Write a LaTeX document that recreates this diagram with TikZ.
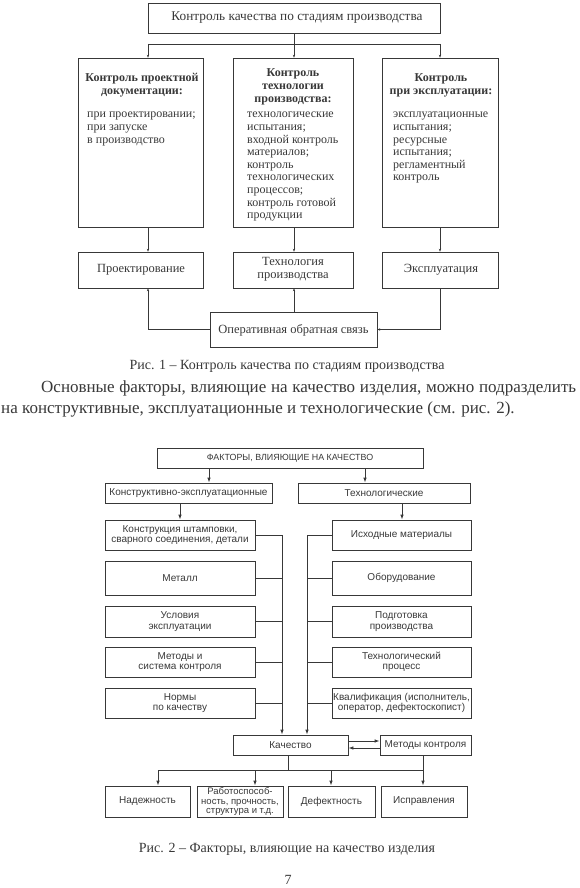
\documentclass[tikz,border=0pt]{standalone}
\usepackage{fontspec}
\setmainfont{Liberation Serif}
\newfontfamily\arialf{Liberation Sans}
\usetikzlibrary{arrows.meta}
\definecolor{ink}{gray}{0.22}
\begin{document}
\begin{tikzpicture}[x=1pt,y=-1pt,
  every node/.style={text=ink},
  boxa/.style={draw=ink, line width=0.6pt, inner sep=0pt},
  txta/.style={inner sep=0pt, font=\fontsize{12.5}{13.3}\selectfont},
  hdra/.style={inner sep=0pt, align=center, font=\fontsize{12}{13.3}\selectfont\bfseries},
  lista/.style={inner sep=0pt, align=left, anchor=north west, font=\fontsize{12}{12.6}\selectfont},
  arra/.style={draw=ink, line width=0.5pt, -{Stealth[length=3pt,width=2.4pt]}},
  lina/.style={draw=ink, line width=0.5pt},
  boxb/.style={draw=ink, line width=0.9pt, inner sep=0pt, align=center, font=\arialf\fontsize{10}{10.6}\selectfont},
  arrb/.style={draw=ink, line width=0.9pt, -{Latex[length=5pt,width=3.6pt]}},
  linb/.style={draw=ink, line width=0.9pt},
  capt/.style={inner sep=0pt, font=\fontsize{14}{16}\selectfont}
]
\useasboundingbox (0,0) rectangle (579,888);

% ---------------- Figure 1 ----------------
\node[boxa, minimum width=292pt, minimum height=30pt] (top) at (294,18) {};
\node[txta, font=\fontsize{13.3}{15}\selectfont] (toptxt) at (297,18) {Контроль качества по стадиям производства};

\node[boxa, minimum width=125pt, minimum height=169pt] (b1) at (140.5,142.5) {};
\node[boxa, minimum width=120pt, minimum height=169pt] (b2) at (293,142.5) {};
\node[boxa, minimum width=116pt, minimum height=169pt] (b3) at (440,142.5) {};

\node[hdra, anchor=north] (h1) at (142,73) {Контроль проектной\\документации:};
\node[lista] (t1) at (87,112) {при проектировании;\\при запуске\\в производство};

\node[hdra, anchor=north] (h2) at (293,68) {Контроль\\технологии\\производства:};
\node[lista] (t2) at (247,112) {технологические\\испытания;\\входной контроль\\материалов;\\контроль\\технологических\\процессов;\\контроль готовой\\продукции};

\node[hdra, anchor=north] (h3) at (441,73) {Контроль\\при эксплуатации:};
\node[lista] (t3) at (393,112) {эксплуатационные\\испытания;\\ресурсные\\испытания;\\регламентный\\контроль};

\node[boxa, minimum width=125pt, minimum height=36pt] (l1) at (140.5,270) {};
\node[boxa, minimum width=120pt, minimum height=36pt] (l2) at (293,270) {};
\node[boxa, minimum width=116pt, minimum height=36pt] (l3) at (440,270) {};
\node[txta] (l1t) at (141,270) {Проектирование};
\node[txta, align=center] (l2t) at (293,269.5) {Технология\\производства};
\node[txta] (l3t) at (441,270) {Эксплуатация};

\node[boxa, minimum width=167pt, minimum height=35pt] (fb) at (293.5,329.5) {};
\node[txta] (fbt) at (293.5,330) {Оперативная обратная связь};

\coordinate (jm) at (294,44);
\coordinate (jl) at (148,44);
\coordinate (jr) at (440,44);
\draw[lina] (top.south -| jm) -- (jm);
\draw[lina] (jl) -- (jr);
\draw[arra] (jl) -- (jl |- b1.north);
\draw[arra] (jm) -- (jm |- b2.north);
\draw[arra] (jr) -- (jr |- b3.north);
\draw[arra] (jl |- b1.south) -- (jl |- l1.north);
\draw[arra] (jm |- b2.south) -- (jm |- l2.north);
\draw[arra] (jr |- b3.south) -- (jr |- l3.north);
\draw[arra] (fb.west) -| (jl |- l1.south);
\draw[arra] (jm |- fb.north) -- (jm |- l2.south);
\draw[arra] (jr |- l3.south) |- (fb.east);

\node[capt] (cap1) at (287,366) {Рис. 1 -- Контроль качества по стадиям производства};

% ---------------- paragraph ----------------
\node[inner sep=0pt, anchor=west, font=\fontsize{17}{20}\selectfont] (par1) at (41,388)
  {\makebox[535pt][s]{Основные факторы, влияющие на качество изделия, можно подразделить}};
\node[inner sep=0pt, anchor=west, font=\fontsize{17}{20}\selectfont] (par2) at (1,409)
  {на конструктивные, эксплуатационные и технологические (см. рис. 2).};

% ---------------- Figure 2 ----------------
\node[boxb, font=\arialf\fontsize{8.9}{10}\selectfont, minimum width=266pt, minimum height=20pt] (F) at (290,458) {ФАКТОРЫ, ВЛИЯЮЩИЕ НА КАЧЕСТВО};
\node[boxb, minimum width=167pt, minimum height=20pt] (K1) at (188.5,493) {Конструктивно-эксплуатационные};
\node[boxb, minimum width=172pt, minimum height=20pt] (T1) at (384,493) {Технологические};

\node[boxb, minimum width=150pt, minimum height=30pt] (L1) at (180,535) {Конструкция штамповки,\\сварного соединения, детали};
\node[boxb, minimum width=150pt, minimum height=34pt] (L2) at (180,578) {Металл};
\node[boxb, minimum width=150pt, minimum height=31pt] (L3) at (180,621.5) {Условия\\эксплуатации};
\node[boxb, minimum width=150pt, minimum height=30pt] (L4) at (180,662) {Методы и\\система контроля};
\node[boxb, minimum width=150pt, minimum height=30pt] (L5) at (180,703) {Нормы\\по качеству};

\node[boxb, minimum width=139pt, minimum height=30pt] (R1) at (401.5,535) {Исходные материалы};
\node[boxb, minimum width=139pt, minimum height=34pt] (R2) at (401.5,578) {Оборудование};
\node[boxb, minimum width=139pt, minimum height=31pt] (R3) at (401.5,621.5) {Подготовка\\производства};
\node[boxb, minimum width=139pt, minimum height=30pt] (R4) at (401.5,662) {Технологический\\процесс};
\node[boxb, minimum width=139pt, minimum height=30pt] (R5) at (401.5,703) {Квалификация (исполнитель,\\оператор, дефектоскопист)};

\node[boxb, minimum width=115pt, minimum height=20pt] (Q) at (290.5,745) {Качество};
\node[boxb, minimum width=91pt, minimum height=20pt] (M) at (425.5,745) {Методы контроля};

\node[boxb, minimum width=85pt, minimum height=31pt] (B1) at (147.5,801.5) {Надежность};
\node[boxb, font=\arialf\fontsize{9.5}{9.8}\selectfont, minimum width=86pt, minimum height=31pt] (B2) at (240,801.5) {Работоспособ-\\ность, прочность,\\структура и т.д.};
\node[boxb, minimum width=87pt, minimum height=31pt] (B3) at (331.5,801.5) {Дефектность};
\node[boxb, minimum width=86pt, minimum height=31pt] (B4) at (424,801.5) {Исправления};

\coordinate (fa) at (209,0);
\coordinate (fc) at (365,0);
\coordinate (ka) at (180,0);
\coordinate (ta) at (402,0);
\coordinate (bl) at (282,0);
\coordinate (br) at (307,0);
\coordinate (hy) at (0,770);
\coordinate (xa) at (158,0);
\coordinate (xb) at (255,0);
\coordinate (xc) at (331,0);
\coordinate (xd) at (423,0);
\coordinate (qx) at (288,0);

\draw[arrb] (fa |- F.south) -- (fa |- K1.north);
\draw[arrb] (fc |- F.south) -- (fc |- T1.north);
\draw[arrb] (ka |- K1.south) -- (ka |- L1.north);
\draw[arrb] (ta |- T1.south) -- (ta |- R1.north);

\draw[linb] (L1.east) -| (bl |- L2.east);
\draw[arrb] (bl |- L2.east) -- (bl |- Q.north);
\draw[linb] (R1.west) -| (br |- R2.west);
\draw[arrb] (br |- R2.west) -- (br |- Q.north);
\foreach \n in {2,3,4,5} {
  \draw[linb] (L\n.east) -- (bl |- L\n.east);
  \draw[linb] (R\n.west) -- (br |- R\n.west);
}

\draw[arrb] ([yshift=-3pt]M.west) -- ([yshift=-3pt]Q.east);
\draw[arrb] ([yshift=4pt]Q.east) -- ([yshift=4pt]M.west);

\draw[linb] (qx |- Q.south) -- (qx |- hy);
\draw[linb] (xd |- M.south) -- (xd |- hy);
\draw[linb] (xa |- hy) -- (xd |- hy);
\draw[arrb] (xa |- hy) -- (xa |- B1.north);
\draw[arrb] (xb |- hy) -- (xb |- B2.north);
\draw[arrb] (xc |- hy) -- (xc |- B3.north);
\draw[arrb] (xd |- hy) -- (xd |- B4.north);

\node[capt] (cap2) at (287,849) {Рис. 2 -- Факторы, влияющие на качество изделия};
\node[capt] (pg) at (288,880) {7};
\end{tikzpicture}
\end{document}
